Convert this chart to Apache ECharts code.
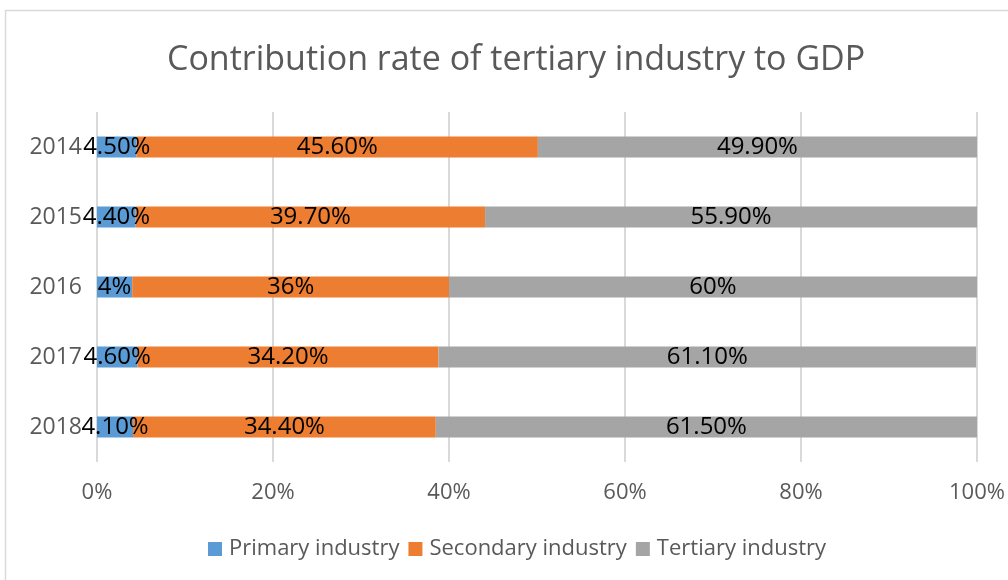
<!DOCTYPE html>
<html lang="en">
<head>
    <meta charset="UTF-8">
    <title>Contribution rate of tertiary industry to GDP</title>
    <style>
        html, body { margin: 0; padding: 0; background: #fff; }
        #chart { width: 1008px; height: 580px; }
    </style>
</head>
<body>
<div id="chart"></div>
<script src="https://cdn.jsdelivr.net/npm/echarts@6/dist/echarts.min.js"></script>
<script>
    var years = ['2014', '2015', '2016', '2017', '2018'];
    var primary = [4.5, 4.4, 4, 4.6, 4.1];
    var secondary = [45.6, 39.7, 36, 34.2, 34.4];
    var tertiary = [49.9, 55.9, 60, 61.1, 61.5];
    var xTicks = [0, 20, 40, 60, 80, 100];

    var font = 'Open Sans';
    var grey = '#595959';

    function pct(p) {
        var v = p.value;
        return (v % 1 === 0 ? v : v.toFixed(2)) + '%';
    }

    function makeSeries(name, data, color) {
        return {
            name: name,
            type: 'bar',
            stack: 'total',
            barWidth: '30%',
            data: data,
            itemStyle: { color: color },
            label: {
                show: true,
                position: 'inside',
                formatter: pct,
                color: '#000',
                fontFamily: font,
                fontSize: 24
            }
        };
    }

    var chart = echarts.init(document.getElementById('chart'));
    var option = {
        animation: false,
        textStyle: { fontFamily: font },
        graphic: [{
            type: 'rect',
            shape: { x: 5.5, y: 10.5, width: 1020, height: 600 },
            style: { fill: 'none', stroke: '#d9d9d9', lineWidth: 1.5 },
            silent: true
        }],
        title: {
            text: 'Contribution rate of tertiary industry to GDP',
            left: 162,
            top: 38,
            textStyle: { color: grey, fontFamily: font, fontSize: 34, fontWeight: 'normal' }
        },
        legend: {
            data: ['Primary industry', 'Secondary industry', 'Tertiary industry'],
            bottom: 15,
            left: 203,
            icon: 'rect',
            itemWidth: 14,
            itemHeight: 14,
            itemGap: 9,
            textStyle: { color: grey, fontFamily: font, fontSize: 22, padding: [0, 0, 0, 2] }
        },
        grid: { left: 97, right: 31, top: 112, height: 350 },
        xAxis: {
            type: 'value',
            min: xTicks[0],
            max: xTicks[xTicks.length - 1],
            interval: 20,
            axisLine: { show: false },
            axisTick: { show: false },
            splitLine: { lineStyle: { color: '#d9d9d9', width: 2 } },
            axisLabel: {
                formatter: '{value}%',
                color: grey,
                fontFamily: font,
                fontSize: 22,
                margin: 20
            }
        },
        yAxis: {
            type: 'category',
            data: years,
            inverse: true,
            axisLine: { show: false },
            axisTick: { show: false },
            axisLabel: { color: grey, fontFamily: font, fontSize: 23, margin: 15 }
        },
        series: [
            makeSeries('Primary industry', primary, '#5B9BD5'),
            makeSeries('Secondary industry', secondary, '#ED7D31'),
            makeSeries('Tertiary industry', tertiary, '#A5A5A5')
        ]
    };
    chart.setOption(option);
</script>
</body>
</html>
